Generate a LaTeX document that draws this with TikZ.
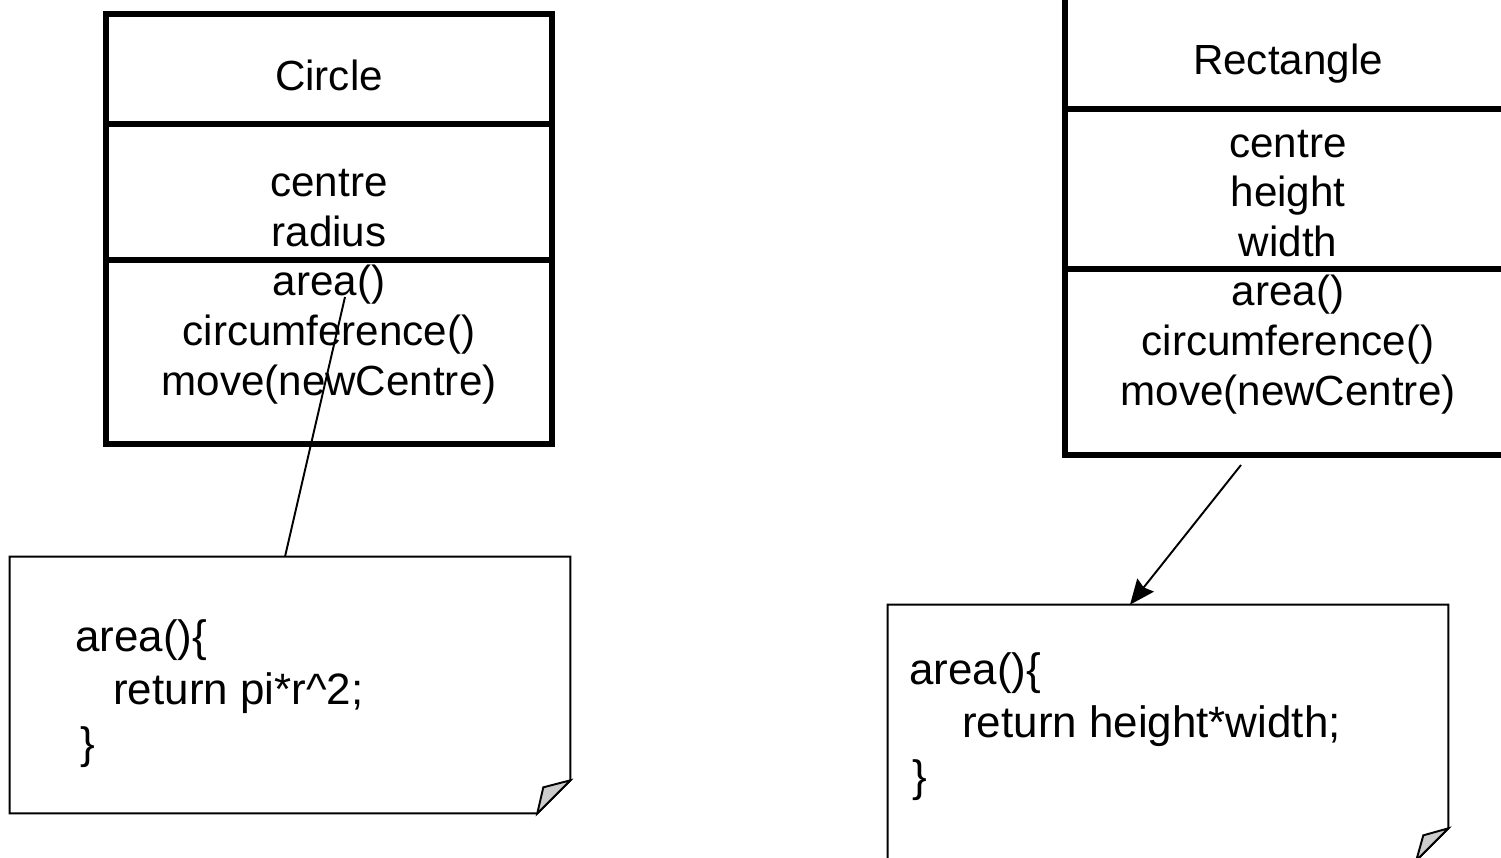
\documentclass[tikz,border=0pt]{standalone}
\usepackage{fontspec}
\setmainfont{Liberation Sans}
\usetikzlibrary{arrows.meta}
\definecolor{foldgray}{RGB}{204,204,204}

\begin{document}
\begin{tikzpicture}[
        x=0.02cm, y=-0.02cm,
        part/.style={draw, line width=3.4pt, minimum width=8.92cm, inner sep=0pt},
        label/.style={font=\fontsize{24}{28.2}\selectfont, inner sep=0pt, align=center, anchor=base},
        note/.style={minimum width=11.2cm, inner sep=0pt},
        code/.style={font=\fontsize{25}{30.2}\selectfont, inner sep=0pt, align=left, anchor=base west},
        line/.style={line width=1.1pt},
        arrow/.style={-{Stealth[length=0.5cm, width=0.42cm, inset=0.06cm]}, line width=1.1pt}
    ]
        \useasboundingbox (0,0) rectangle (1501,858);

        \node[part, minimum height=2.2cm] (circ-name) at (329,69) {};
        \node[part, minimum height=2.72cm] (circ-attr) at (329,192) {};
        \node[part, minimum height=3.68cm] (circ-meth) at (329,352) {};
        \node[label] (circ-title) at (329,91) {Circle};
        \node[label] (circ-list) at (329,395) {centre\\radius\\area()\\circumference()\\move(newCentre)};

        \node[part, minimum height=2.24cm] (rect-name) at (1288,53) {};
        \node[part, minimum height=3.2cm] (rect-attr) at (1288,189) {};
        \node[part, minimum height=3.72cm] (rect-meth) at (1288,362) {};
        \node[label] (rect-title) at (1288,75) {Rectangle};
        \node[label] (rect-list) at (1288,405) {centre\\height\\width\\area()\\circumference()\\move(newCentre)};

        \node[note, minimum height=5.12cm] (note1) at (290,685) {};
        \draw[line, fill=white] (note1.north west) -- (note1.north east) -- ([yshift=0.66cm]note1.south east)
            -- ([xshift=-0.66cm]note1.south east) -- (note1.south west) -- cycle;
        \draw[line, fill=foldgray] ([yshift=0.66cm]note1.south east) -- ([xshift=-0.66cm]note1.south east)
            -- ([xshift=-0.54cm, yshift=0.52cm]note1.south east) -- cycle;
        \node[code] (code1) at (75,758) {area()\{\\\hspace*{0.76cm}return pi*r\textasciicircum 2;\\\hspace*{0.1cm}\}};

        \node[note, minimum height=5.1cm] (note2) at (1168,732.5) {};
        \draw[line, fill=white] (note2.north west) -- (note2.north east) -- ([yshift=0.64cm]note2.south east)
            -- ([xshift=-0.64cm]note2.south east) -- (note2.south west) -- cycle;
        \draw[line, fill=foldgray] ([yshift=0.64cm]note2.south east) -- ([xshift=-0.64cm]note2.south east)
            -- ([xshift=-0.5cm, yshift=0.5cm]note2.south east) -- cycle;
        \node[code] (code2) at (909,791) {area()\{\\\hspace*{1.06cm}return height*width;\\\hspace*{0.06cm}\}};

        \draw[line] ([xshift=0.32cm, yshift=-0.8cm]circ-meth.north) -- ([xshift=-0.1cm]note1.north);
        \draw[arrow] ([xshift=-0.94cm, yshift=-0.14cm]rect-meth.south) -- ([xshift=-0.76cm]note2.north);
    \end{tikzpicture}
\end{document}
